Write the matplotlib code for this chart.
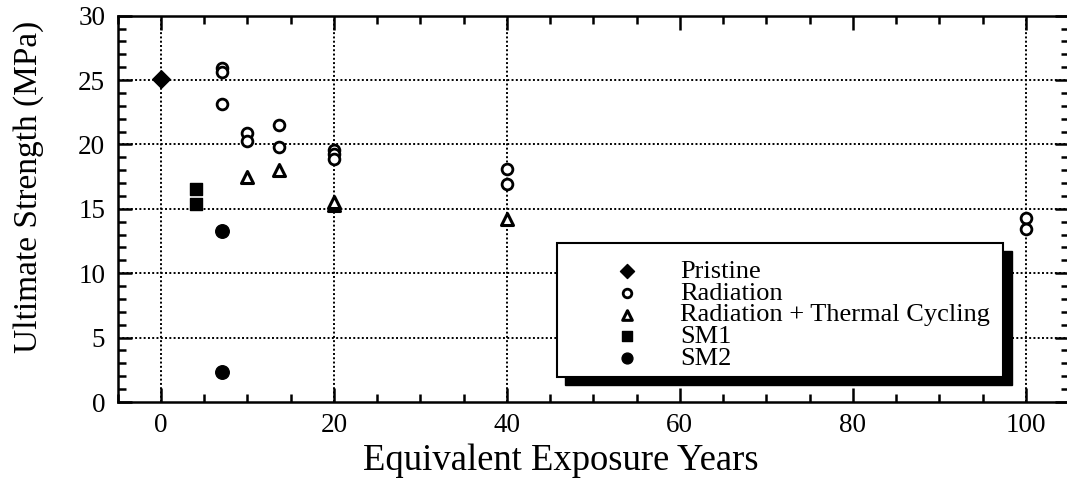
import matplotlib
matplotlib.use("Agg")
import matplotlib.pyplot as plt
from matplotlib.patches import Rectangle
from matplotlib.ticker import MultipleLocator

plt.rcParams['font.family'] = ['Liberation Serif', 'DejaVu Serif']

# ---- data ----
pristine_x = [0]
pristine_y = [25.1]

radiation_x = [7, 7, 7, 10, 10, 13.7, 13.7, 20, 20, 20, 40, 40, 100, 100]
radiation_y = [25.9, 25.6, 23.1, 20.9, 20.3, 21.5, 19.8, 19.6, 19.25, 18.9, 18.1, 16.9, 14.3, 13.4]

rtc_x = [10, 13.7, 20, 20, 40]
rtc_y = [17.5, 18.0, 15.3, 15.5, 14.2]

sm1_x = [4, 4]
sm1_y = [16.5, 15.4]

sm2_x = [7, 7]
sm2_y = [13.3, 2.3]

labels = ["Pristine", "Radiation", "Radiation + Thermal Cycling", "SM1", "SM2"]

vgrid_x = [0, 20, 40, 100]
hgrid_y = [5, 10, 15, 20, 25]

x_ticks = [0, 20, 40, 60, 80, 100]
y_ticks = [0, 5, 10, 15, 20, 25, 30]

# ---- figure ----
fig = plt.figure(figsize=(10.67, 4.84), dpi=100)
ax = fig.add_axes([0.11036, 0.16942, 0.8915, 0.7983])
ax.set_xlim(-5, 105)
ax.set_ylim(0, 30)

for gx in vgrid_x:
    ax.axvline(gx, color='black', linestyle=(0, (1, 1.2)), linewidth=1.4, zorder=1)
for gy in hgrid_y:
    ax.axhline(gy, color='black', linestyle=(0, (1, 1.2)), linewidth=1.4, zorder=1)

h1 = ax.scatter(pristine_x, pristine_y, marker='D', s=80, color='black', zorder=3)
h2 = ax.scatter(radiation_x, radiation_y, marker='o', s=60, facecolor='white',
                edgecolor='black', linewidths=2.0, zorder=3)
h3 = ax.scatter(rtc_x, rtc_y, marker='^', s=75, facecolor='white',
                edgecolor='black', linewidths=2.2, zorder=3)
h4 = ax.scatter(sm1_x, sm1_y, marker='s', s=85, color='black', zorder=3)
h5 = ax.scatter(sm2_x, sm2_y, marker='o', s=95, color='black', zorder=3)

ax.set_xticks(x_ticks)
ax.set_yticks(y_ticks)
ax.xaxis.set_minor_locator(MultipleLocator(5))
ax.yaxis.set_minor_locator(MultipleLocator(1))
ax.tick_params(which='both', direction='in', top=True, right=True, width=1.8,
               labelsize=19.5, color='black')
ax.tick_params(which='major', length=10)
ax.tick_params(which='minor', length=6)
ax.tick_params(axis='y', which='major', pad=9)
ax.tick_params(axis='x', which='major', pad=8)
for sp in ax.spines.values():
    sp.set_linewidth(1.8)

ax.set_xlabel("Equivalent Exposure Years", fontsize=26.4)
ax.set_ylabel("Ultimate Strength (MPa)", fontsize=24)
ax.xaxis.set_label_coords(0.466, -0.108)
ax.yaxis.set_label_coords(-0.078, 0.556)

# legend box with drop shadow
lx0, ly0, lx1, ly1 = 0.4618, 0.0647, 0.9307, 0.4115
sdx, sdy = 0.0089, 0.0207
ax.add_patch(Rectangle((lx0 + sdx, ly0 - sdy), lx1 - lx0, ly1 - ly0,
                       transform=ax.transAxes, facecolor='black', edgecolor='black',
                       zorder=5))
ax.add_patch(Rectangle((lx0, ly0), lx1 - lx0, ly1 - ly0,
                       transform=ax.transAxes, facecolor='white', edgecolor='black',
                       linewidth=1.5, zorder=6))

leg = ax.legend([h1, h2, h3, h4, h5], labels, loc='upper left',
                bbox_to_anchor=(0.5133, 0.3695), frameon=False, fontsize=19,
                labelspacing=-0.06, borderpad=0, borderaxespad=0,
                handlelength=1.6, handletextpad=1.2, markerscale=0.8)
leg.set_zorder(7)

fig.savefig("out.png", dpi=100)
